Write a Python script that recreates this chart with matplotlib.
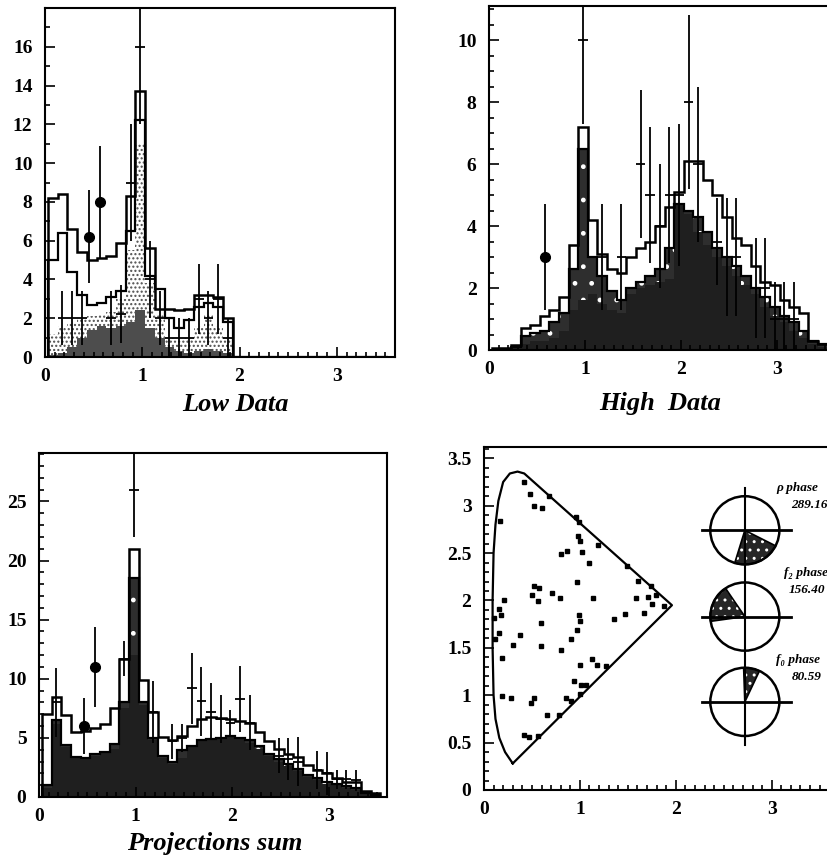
import numpy as np
import matplotlib
matplotlib.use("Agg")
import matplotlib.pyplot as plt
from matplotlib.patches import Circle, Wedge
from matplotlib.ticker import MultipleLocator

plt.rcParams['font.family'] = ['Liberation Serif', 'DejaVu Serif']
plt.rcParams['font.weight'] = 'bold'
plt.rcParams['hatch.linewidth'] = 1.0

# bin edges (width 0.1) shared by the three mass histograms
edges = np.round(0.03 + 0.1 * np.arange(36), 2)

# ---------------- Low Data
low_total = [8.2, 8.4, 6.6, 5.4, 5.0, 5.1, 5.2, 5.9, 8.3, 13.7, 5.6, 2.5, 2.5, 2.4, 2.5, 3.2, 3.2, 3.1, 2.0] + [0.0] * 16
low_comp = [5.0, 6.4, 4.4, 3.2, 2.7, 2.8, 3.1, 3.4, 6.5, 12.2, 4.2, 3.5, 2.0, 1.5, 1.9, 2.6, 2.8, 2.6, 1.8] + [0.0] * 16
low_stip = [1.2, 1.6, 1.8, 2.0, 2.1, 2.2, 2.3, 3.0, 5.5, 11.0, 3.8, 2.2, 1.0, 0.9, 1.0, 1.6, 2.2, 1.6, 1.0] + [0.0] * 16
low_dark = [0.1, 0.2, 0.5, 1.0, 1.4, 1.6, 1.5, 1.6, 1.8, 2.4, 1.5, 1.0, 0.5, 0.3, 0.2, 0.3, 0.4, 0.3, 0.2] + [0.0] * 16
low_px = [0.18, 0.28, 0.38, 0.68, 0.78, 0.88, 0.98, 1.08, 1.18, 1.28, 1.38, 1.48, 1.58, 1.68, 1.78, 1.88]
low_py = [2.0, 2.0, 2.0, 2.0, 2.2, 9.0, 16.0, 4.0, 2.0, 1.0, 1.0, 1.0, 3.0, 2.0, 3.0, 1.0]
low_pe = [1.4, 1.4, 1.4, 1.4, 1.5, 3.0, 4.0, 2.0, 1.4, 1.0, 1.0, 1.0, 1.8, 1.4, 1.8, 1.0]
low_dx = [0.45, 0.57]
low_dy = [6.2, 8.0]
low_de = [2.4, 2.9]

# ---------------- High Data
high_total = [0.05, 0.05, 0.15, 0.7, 0.8, 1.1, 1.3, 1.7, 3.4, 7.2, 4.2, 3.1, 2.6, 2.5, 3.0, 3.3, 3.5, 4.0,
              4.6, 5.1, 6.1, 6.1, 5.5, 5.0, 4.3, 3.6, 3.4, 2.7, 2.2, 2.1, 1.6, 1.4, 1.2, 0.3, 0.2]
high_comp = [0.0, 0.03, 0.1, 0.45, 0.55, 0.6, 0.9, 1.2, 2.6, 6.5, 3.0, 2.4, 1.9, 1.6, 2.0, 2.2, 2.4, 2.6,
             3.3, 4.7, 4.5, 4.3, 3.8, 3.3, 3.0, 2.7, 2.4, 2.0, 1.7, 1.4, 1.1, 0.9, 0.6, 0.3, 0.2]
high_dark = [0.0, 0.02, 0.1, 0.2, 0.3, 0.3, 0.4, 0.6, 1.3, 1.6, 1.8, 1.5, 1.3, 1.2, 1.8, 2.0, 2.1, 2.2,
             2.3, 4.7, 4.4, 3.8, 3.4, 3.0, 2.7, 2.4, 2.1, 1.8, 1.4, 1.1, 0.9, 0.6, 0.4, 0.2, 0.1]
high_px = [0.98, 1.18, 1.38, 1.58, 1.68, 1.78, 1.88, 1.98, 2.08, 2.18, 2.38, 2.48, 2.58, 2.78, 2.88, 2.98, 3.08, 3.18]
high_py = [10.0, 3.0, 3.0, 6.0, 5.0, 4.0, 5.0, 5.0, 8.0, 6.0, 3.5, 3.0, 3.0, 2.0, 2.0, 1.0, 1.0, 1.0]
high_pe = [2.7, 1.7, 1.7, 2.4, 2.2, 2.0, 2.2, 2.3, 2.8, 2.5, 1.4, 1.9, 1.9, 1.6, 1.6, 1.2, 1.2, 1.2]
high_dx = [0.58]
high_dy = [3.0]
high_de = [1.7]

# ---------------- Projections sum
proj_total = [7.0, 8.5, 6.9, 5.5, 5.6, 5.8, 6.2, 7.5, 11.7, 21.0, 9.9, 7.2, 5.1, 4.8, 5.2, 6.0, 6.6, 6.8,
              6.7, 6.6, 6.4, 6.3, 5.5, 4.7, 4.1, 3.6, 3.4, 2.7, 2.3, 2.0, 1.6, 1.3, 1.3, 0.5, 0.3]
proj_comp = [1.0, 6.5, 4.4, 3.4, 3.3, 3.6, 3.8, 4.5, 8.0, 18.5, 8.0, 5.0, 3.5, 3.0, 4.0, 4.3, 4.8, 4.9,
             5.0, 5.2, 5.0, 4.8, 4.3, 3.6, 3.2, 2.8, 2.4, 1.9, 1.6, 1.3, 1.1, 0.9, 0.8, 0.3, 0.2]
proj_dark = [0.8, 6.2, 4.2, 3.3, 3.2, 3.5, 3.7, 4.1, 7.5, 12.0, 7.8, 4.8, 3.3, 2.8, 3.3, 4.2, 4.7, 4.8,
             5.0, 5.1, 4.9, 4.6, 4.1, 3.5, 3.0, 2.6, 2.2, 1.7, 1.4, 1.1, 1.0, 0.8, 0.6, 0.3, 0.2]
proj_px = [0.18, 0.88, 0.98, 1.18, 1.38, 1.48, 1.58, 1.68, 1.78, 1.88, 1.98, 2.08, 2.18,
           2.48, 2.58, 2.68, 2.88, 2.98, 3.08, 3.18, 3.28]
proj_py = [8.0, 11.7, 26.0, 7.2, 4.7, 5.0, 9.2, 8.1, 7.2, 6.6, 6.3, 8.3, 6.3,
           3.5, 3.2, 3.0, 2.3, 2.0, 1.5, 1.5, 1.4]
proj_pe = [2.9, 1.5, 4.0, 2.6, 1.5, 1.2, 3.0, 2.9, 2.4, 2.0, 1.1, 2.8, 2.3,
           1.5, 1.8, 2.1, 1.6, 1.8, 0.8, 0.8, 0.9]
proj_dx = [0.47, 0.58]
proj_dy = [6.0, 11.0]
proj_de = [2.4, 3.4]

# ---------------- Dalitz plot
bnd_x = [0.30, 0.22, 0.16, 0.12, 0.10, 0.09, 0.09, 0.10, 0.12, 0.15, 0.20, 0.27, 0.35, 0.42, 1.96, 0.30]
bnd_y = [0.28, 0.40, 0.55, 0.75, 1.00, 1.50, 2.00, 2.50, 2.80, 3.05, 3.25, 3.34, 3.36, 3.34, 1.95, 0.28]
dal_x = [0.42, 0.48, 0.52, 0.61, 0.68, 0.17, 0.96, 0.99, 0.98, 1.00, 1.19, 0.80, 0.87, 1.02, 1.10,
         1.49, 1.61, 1.74, 1.79, 1.59, 1.71, 1.75, 1.88, 1.67, 1.47, 1.36, 0.97, 0.99, 1.00, 0.97,
         0.91, 1.14, 0.79, 0.71, 0.56, 0.50, 0.57, 0.52, 0.59, 0.38, 0.30, 0.59, 0.80, 0.19, 0.21,
         0.16, 0.18, 0.10, 0.16, 0.12, 1.00, 1.13, 1.18, 1.27, 0.94, 1.01, 1.06, 0.19, 0.28, 0.52,
         0.49, 0.86, 0.91, 1.00, 0.66, 0.78, 0.42, 0.47, 0.56]
dal_y = [3.25, 3.12, 3.00, 2.98, 3.10, 2.84, 2.88, 2.83, 2.68, 2.63, 2.59, 2.49, 2.52, 2.51, 2.40,
         2.36, 2.21, 2.15, 2.06, 2.03, 2.04, 1.96, 1.94, 1.87, 1.86, 1.80, 2.19, 1.85, 1.78, 1.69,
         1.59, 2.03, 2.03, 2.08, 1.99, 2.06, 2.13, 2.15, 1.76, 1.64, 1.53, 1.52, 1.48, 1.39, 2.01,
         1.91, 1.85, 1.82, 1.66, 1.59, 1.32, 1.38, 1.32, 1.31, 1.15, 1.11, 1.11, 0.99, 0.97, 0.97,
         0.92, 0.97, 0.94, 1.01, 0.79, 0.79, 0.58, 0.56, 0.57]

phase_names = ['ρ phase', 'f₂ phase', 'f₀ phase']
phase_vals = ['289.16', '156.40', '80.59']
circ_y = [2.74, 1.83, 0.93]
wedge_from = [253, 124, 65]
wedge_to = [333, 188, 92]
circ_x = 2.72
circ_r = 0.36

fig = plt.figure(figsize=(8.28, 8.63), dpi=100)


def style_axes(ax, ymajor, yminor):
    ax.set_xlim(0, 3.6)
    ax.xaxis.set_major_locator(MultipleLocator(1))
    ax.xaxis.set_minor_locator(MultipleLocator(0.1))
    ax.yaxis.set_major_locator(MultipleLocator(ymajor))
    ax.yaxis.set_minor_locator(MultipleLocator(yminor))
    ax.tick_params(which='both', direction='in', top=False, right=False, width=1.2)
    ax.tick_params(which='major', length=7, labelsize=14)
    ax.tick_params(axis='x', which='major', pad=8)
    ax.tick_params(axis='y', which='major', pad=9)
    ax.tick_params(which='minor', length=3.5)
    for s in ax.spines.values():
        s.set_linewidth(1.5)
    for lab in ax.get_xticklabels() + ax.get_yticklabels():
        lab.set_fontweight('bold')


def hist_panel(ax, total, comp, stip, dark, px, py, pe, dx, dy, de, light):
    if light:
        ax.stairs(stip, edges, fill=True, facecolor='white', edgecolor='0.3', hatch='....', lw=0)
        ax.stairs(dark, edges, fill=True, facecolor='0.3', lw=0)
    else:
        ax.stairs(comp, edges, fill=True, facecolor='0.18', edgecolor='white', hatch='.', lw=0)
        ax.stairs(dark, edges, fill=True, facecolor='0.12', lw=0)
    ax.stairs(comp, edges, color='k', lw=1.6)
    ax.stairs(total, edges, color='k', lw=1.8)
    ax.errorbar(px, py, yerr=pe, xerr=0.05, fmt='none', ecolor='k', elinewidth=1.3, capsize=0)
    ax.errorbar(dx, dy, yerr=de, fmt='o', color='k', ms=7, elinewidth=1.3, capsize=0)


ax1 = fig.add_axes([0.0543, 0.5863, 0.4230, 0.4044])
hist_panel(ax1, low_total, low_comp, low_stip, low_dark, low_px, low_py, low_pe,
           low_dx, low_dy, low_de, True)
style_axes(ax1, 2, 1)
ax1.set_ylim(0, 18)
ax1.set_yticks([0, 2, 4, 6, 8, 10, 12, 14, 16])

ax2 = fig.add_axes([0.5906, 0.5944, 0.4170, 0.3986])
hist_panel(ax2, high_total, high_comp, high_comp, high_dark, high_px, high_py, high_pe,
           high_dx, high_dy, high_de, False)
style_axes(ax2, 2, 0.5)
ax2.set_ylim(0, 11.1)

ax3 = fig.add_axes([0.0471, 0.0765, 0.4204, 0.3986])
hist_panel(ax3, proj_total, proj_comp, proj_comp, proj_dark, proj_px, proj_py, proj_pe,
           proj_dx, proj_dy, proj_de, False)
style_axes(ax3, 5, 1)
ax3.set_ylim(0, 29.1)

ax4 = fig.add_axes([0.5845, 0.0846, 0.4170, 0.3975])
ax4.plot(bnd_x, bnd_y, color='k', lw=1.6)
ax4.plot(dal_x, dal_y, 's', color='k', ms=3.5)
ax4.plot([circ_x, circ_x], [3.19, 0.48], color='k', lw=1.5)
for cy, a1, a2 in zip(circ_y, wedge_from, wedge_to):
    ax4.add_patch(Wedge((circ_x, cy), circ_r, a1, a2, facecolor='0.15', edgecolor='white',
                        hatch='..', lw=0))
    ax4.add_patch(Wedge((circ_x, cy), circ_r, a1, a2, fill=False, edgecolor='k', lw=1.2))
    ax4.add_patch(Circle((circ_x, cy), circ_r, fill=False, edgecolor='k', lw=1.8))
    ax4.plot([circ_x - 0.45, circ_x + 0.48], [cy, cy], color='k', lw=2)
# phase labels, partly cut off by the right edge like in the scan
ax4.text(3.05, 3.19, phase_names[0], fontsize=9.5, style='italic', va='center')
ax4.text(3.20, 3.01, phase_vals[0], fontsize=9.5, style='italic', va='center')
ax4.text(3.13, 2.29, phase_names[1], fontsize=9.5, style='italic', va='center')
ax4.text(3.18, 2.11, phase_vals[1], fontsize=9.5, style='italic', va='center')
ax4.text(3.05, 1.37, phase_names[2], fontsize=9.5, style='italic', va='center')
ax4.text(3.21, 1.19, phase_vals[2], fontsize=9.5, style='italic', va='center')
style_axes(ax4, 0.5, 0.1)
ax4.set_ylim(0, 3.62)
ax4.set_yticks([0, 0.5, 1, 1.5, 2, 2.5, 3, 3.5])
ax4.set_yticklabels(['0', '0.5', '1', '1.5', '2', '2.5', '3', '3.5'])
for lab in ax4.get_yticklabels():
    lab.set_fontweight('bold')

fig.text(0.284, 0.531, 'Low Data', fontsize=19, style='italic', fontweight='bold', ha='center', va='center')
fig.text(0.797, 0.533, 'High  Data', fontsize=19, style='italic', fontweight='bold', ha='center', va='center')
fig.text(0.259, 0.023, 'Projections sum', fontsize=19, style='italic', fontweight='bold', ha='center', va='center')

fig.savefig('out.png', dpi=100)
